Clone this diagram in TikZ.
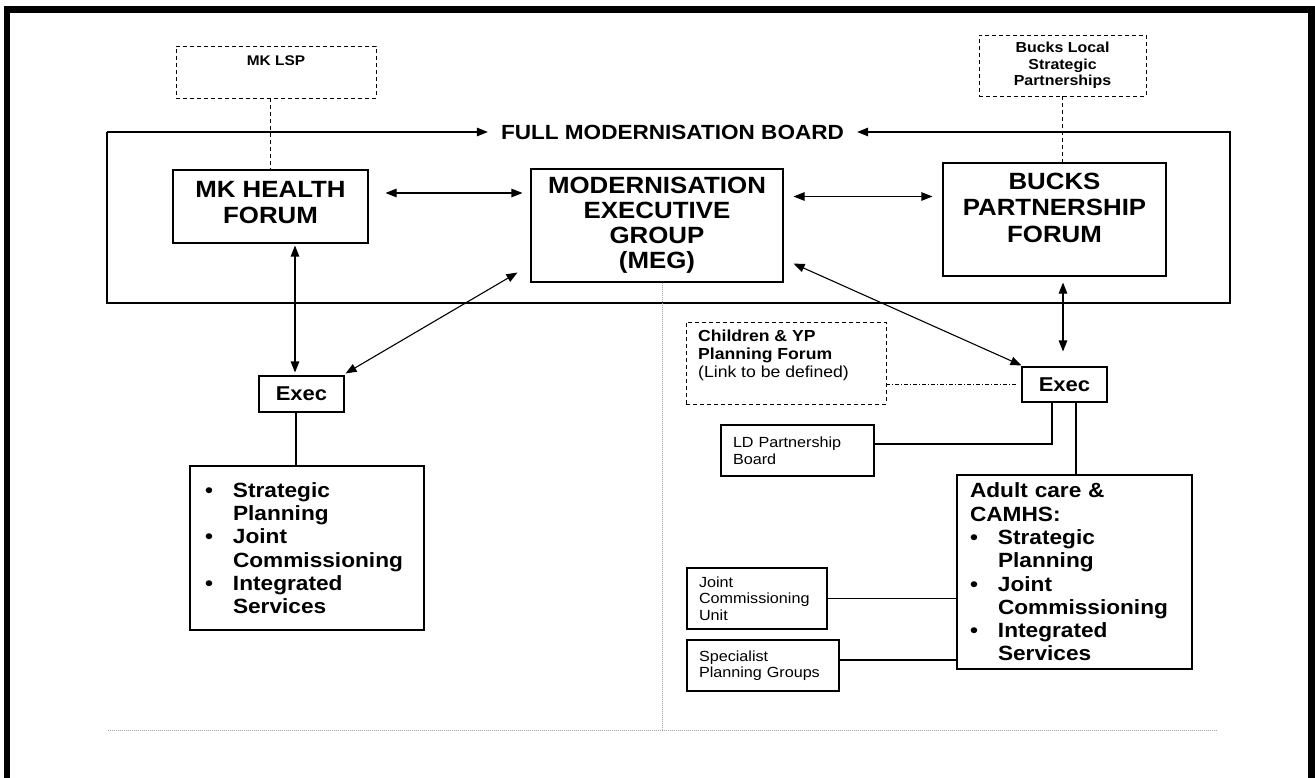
\documentclass[tikz,border=0pt]{standalone}
\usepackage{fontspec}
\setmainfont{Liberation Sans}[FakeStretch=1.1]
\usetikzlibrary{arrows.meta}
\tikzset{
  box/.style={draw, line width=1.1pt, rectangle, inner sep=0pt},
  dbox/.style={box, line width=0.9pt, dash pattern=on 4pt off 3pt},
  conn/.style={line width=1.1pt},
  dconn/.style={line width=0.9pt, dash pattern=on 4pt off 3pt},
  ddconn/.style={line width=0.9pt, dash pattern=on 4pt off 2pt on 1pt off 2pt},
  dotline/.style={line width=0.8pt, gray!70, dash pattern=on 1pt off 1pt},
  frame/.style={line width=6.5pt, line join=miter},
  bigtxt/.style={font=\fontsize{23.5}{26.5}\selectfont\bfseries, align=center, inner sep=0pt},
  exectxt/.style={font=\fontsize{20}{24}\selectfont\bfseries},
  listtxt/.style={font=\fontsize{20.6}{23.3}\selectfont\bfseries, align=left},
  smallb/.style={font=\fontsize{14.5}{16.5}\selectfont\bfseries, align=center, inner sep=0pt},
  smallr/.style={font=\fontsize{14.7}{16.5}\selectfont, align=left},
}
\newcommand{\bul}{\makebox[28pt][l]{•}}
\newcommand{\ind}{\hspace*{28pt}}
\begin{document}
\begin{tikzpicture}[x=1pt, y=-1pt, >={Triangle[length=11pt,width=8.5pt]}]
\useasboundingbox[fill=white] (0,0) rectangle (1315,778);
\draw[frame] (7,778) -- (7,9.5) -- (1311.5,9.5) -- (1311.5,778);

% dashed top boxes
\node[dbox, minimum width=200pt, minimum height=52pt] (mklsp) at (276,72) {};
\node[smallb, font=\fontsize{14}{16}\selectfont\bfseries] (mklspt) at (276,61) {MK LSP};
\node[dbox, smallb, minimum width=167pt, minimum height=61pt] (bls) at (1062.5,65.5) {Bucks Local\\Strategic\\Partnerships};

% board title
\node[font=\fontsize{20.5}{24}\selectfont\bfseries, inner xsep=13pt, inner ysep=0pt] (fmb) at (672.5,132) {FULL MODERNISATION BOARD};
\coordinate (bTL) at (107,132);
\coordinate (bBL) at (107,303);
\coordinate (bBR) at (1230,303);
\coordinate (bTR) at (1230,132);
\draw[conn, ->] (bTL) -- (fmb.west);
\draw[conn, ->] (bTL) -- (bBL) -- (bBR) -- (bTR) -- (fmb.east);

% main boxes
\node[box, bigtxt, minimum width=195pt, minimum height=73pt] (mkhf) at (270.5,206.5) {};
\node[bigtxt] (mkhft) at (270.5,202.5) {MK HEALTH\\FORUM};
\node[box, bigtxt, font=\fontsize{23.5}{25}\selectfont\bfseries, minimum width=252pt, minimum height=113pt] (meg) at (657,225.5) {MODERNISATION\\EXECUTIVE\\GROUP\\(MEG)};
\node[box, minimum width=223pt, minimum height=113pt] (bpf) at (1054.5,219.5) {};
\node[bigtxt] (bpft) at (1054.5,207.5) {BUCKS\\PARTNERSHIP\\FORUM};

% exec boxes
\node[box, exectxt, minimum width=85pt, minimum height=36pt] (execl) at (301.5,394) {Exec};
\node[box, exectxt, minimum width=85pt, minimum height=35pt] (execr) at (1064.5,384.5) {Exec};

% left list box
\node[box, listtxt, minimum width=234pt, minimum height=164pt, text width=204pt, inner xsep=15pt] (lbul) at (307,548)
  {\bul Strategic\\\ind Planning\\\bul Joint\\\ind Commissioning\\\bul Integrated\\\ind Services};

% right side
\node[dbox, minimum width=200pt, minimum height=82pt] (cyp) at (786,363) {};
\node[anchor=west, inner sep=0pt, align=left, font=\fontsize{16}{18}\selectfont\bfseries] (cypt) at (698,355)
  {Children \& YP\\Planning Forum\\{\mdseries (Link to be defined)}};
\node[box, smallr, minimum width=153pt, minimum height=51pt, text width=129pt, inner xsep=12pt] (ld) at (797.5,450.5) {LD Partnership\\Board};
\node[box, listtxt, minimum width=235pt, minimum height=194pt, text width=209pt, inner xsep=13pt] (adult) at (1074.5,572)
  {Adult care \&\\CAMHS:\\\bul Strategic\\\ind Planning\\\bul Joint\\\ind Commissioning\\\bul Integrated\\\ind Services};
\node[box, smallr, minimum width=140pt, minimum height=61pt, text width=116pt, inner xsep=12pt] (jcu) at (757,598.5) {Joint\\Commissioning\\Unit};
\node[box, smallr, minimum width=152pt, minimum height=51pt, text width=128pt, inner xsep=12pt] (spec) at (763,665.5) {Specialist\\Planning Groups};

% dashed links
\draw[dconn] (mkhf.north |- mklsp.south) -- (mkhf.north);
\draw[dconn] (bls.south) -- (bls.south |- bpf.north);
\draw[ddconn, shorten >=4pt] ([yshift=-21pt]cyp.east) -- ([yshift=-21pt]cyp.east -| execr.west);

% arrows
\draw[conn, <->, shorten <=17pt, shorten >=8pt] ([yshift=13.5pt]mkhf.east) -- ([yshift=13.5pt]mkhf.east -| meg.west);
\draw[conn, <->, shorten <=10pt, shorten >=10pt] ([yshift=29pt]meg.east) -- ([yshift=29pt]meg.east -| bpf.west);
\draw[conn, <->, shorten <=2pt, shorten >=3pt] ([xshift=24.5pt]mkhf.south) -- ([xshift=24.5pt]mkhf.south |- execl.north);
\draw[conn, <->] ([xshift=1pt,yshift=2pt]execl.north east) -- ([xshift=-13pt,yshift=10pt]meg.south west);
\draw[conn, <->] ([xshift=10pt,yshift=19pt]meg.south east) -- ([yshift=1pt]execr.north west);
\draw[conn, <->, shorten <=6pt, shorten >=15pt] ([xshift=8.5pt]bpf.south) -- ([xshift=8.5pt]bpf.south |- execr.north);

% plain links
\draw[conn] ([xshift=-5.5pt]execl.south) -- ([xshift=-5.5pt]execl.south |- lbul.north);
\draw[conn] ([yshift=6.5pt]ld.east) -| ([xshift=-12.5pt]execr.south);
\draw[conn] ([xshift=11.5pt]execr.south) -- ([xshift=11.5pt]execr.south |- adult.north);
\draw[conn] (jcu.east) -- (jcu.east -| adult.west);
\draw[conn] ([yshift=5.5pt]spec.east) -- ([yshift=5.5pt]spec.east -| adult.west);

% dotted guide lines
\coordinate (vEnd) at (662,730);
\coordinate (hL) at (108,730);
\coordinate (hR) at (1217,730);
\draw[dotline] ([xshift=5pt]meg.south) -- (vEnd);
\draw[dotline] (hL) -- (hR);
\end{tikzpicture}
\end{document}
